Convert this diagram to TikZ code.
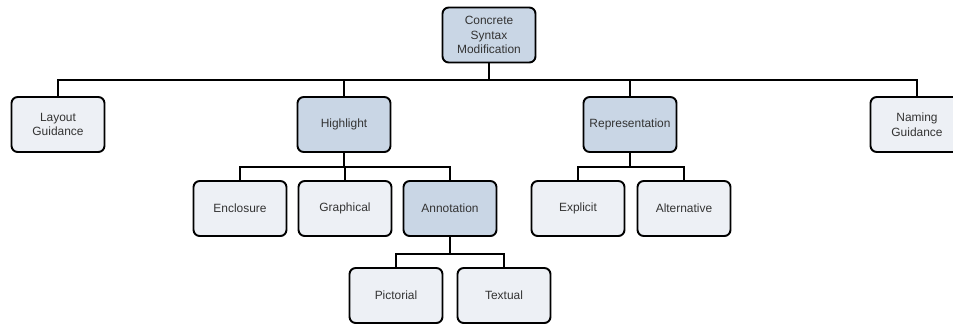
\documentclass[tikz,border=0pt]{standalone}
\usepackage{fontspec}
\setmainfont{Liberation Sans}
\usepackage{tikz}
\usetikzlibrary{positioning, calc}

\definecolor{boxdark}{HTML}{C9D6E5}
\definecolor{boxlight}{HTML}{EDF0F5}
\definecolor{boxtext}{HTML}{333333}

\begin{document}
\begin{tikzpicture}[x=0.02cm, y=-0.02cm]

			\tikzstyle{feat}=[draw=black, line width=1.1pt, rounded corners=3.5pt, minimum width=1.86cm, minimum height=1.1cm, align=center, text=boxtext, font=\fontsize{6.8}{8.4}\selectfont, fill=boxlight]
			\tikzstyle{featd}=[feat, fill=boxdark]
			\tikzstyle{link}=[draw=black, line width=1.1pt]

			\useasboundingbox (0,0) rectangle (953,325);

			\node (csm) at (489,35) [featd] {Concrete\\Syntax\\Modification};

			\node (layout) at (58,124.5) [feat] {Layout\\Guidance};
			\node (highl) at (344,124.5) [featd] {Highlight};
			\node (repr) at (630,124.5) [featd] {Representation};
			\node (naming) at (917,124.5) [feat] {Naming\\Guidance};

			\node (encl) at (240,208.5) [feat] {Enclosure};
			\node (graph) at (345,208.5) [feat] {Graphical};
			\node (annot) at (450,208.5) [featd] {Annotation};

			\node (expl) at (578,208.5) [feat] {Explicit};
			\node (alt) at (684,208.5) [feat] {Alternative};

			\node (pict) at (396,295.5) [feat] {Pictorial};
			\node (textual) at (504,295.5) [feat] {Textual};

			\coordinate (b0) at (489,80);
			\coordinate (b1) at (344,167);
			\coordinate (b2) at (630,167);
			\coordinate (b3) at (450,254);

			\draw [link] (csm) -- (b0);
			\draw [link] (b0) -| (layout);
			\draw [link] (b0) -| (highl);
			\draw [link] (b0) -| (repr);
			\draw [link] (b0) -| (naming);

			\draw [link] (highl) -- (b1);
			\draw [link] (b1) -| (encl);
			\draw [link] (b1) -| (graph);
			\draw [link] (b1) -| (annot);

			\draw [link] (repr) -- (b2);
			\draw [link] (b2) -| (expl);
			\draw [link] (b2) -| (alt);

			\draw [link] (annot) -- (b3);
			\draw [link] (b3) -| (pict);
			\draw [link] (b3) -| (textual);

\end{tikzpicture}
\end{document}
